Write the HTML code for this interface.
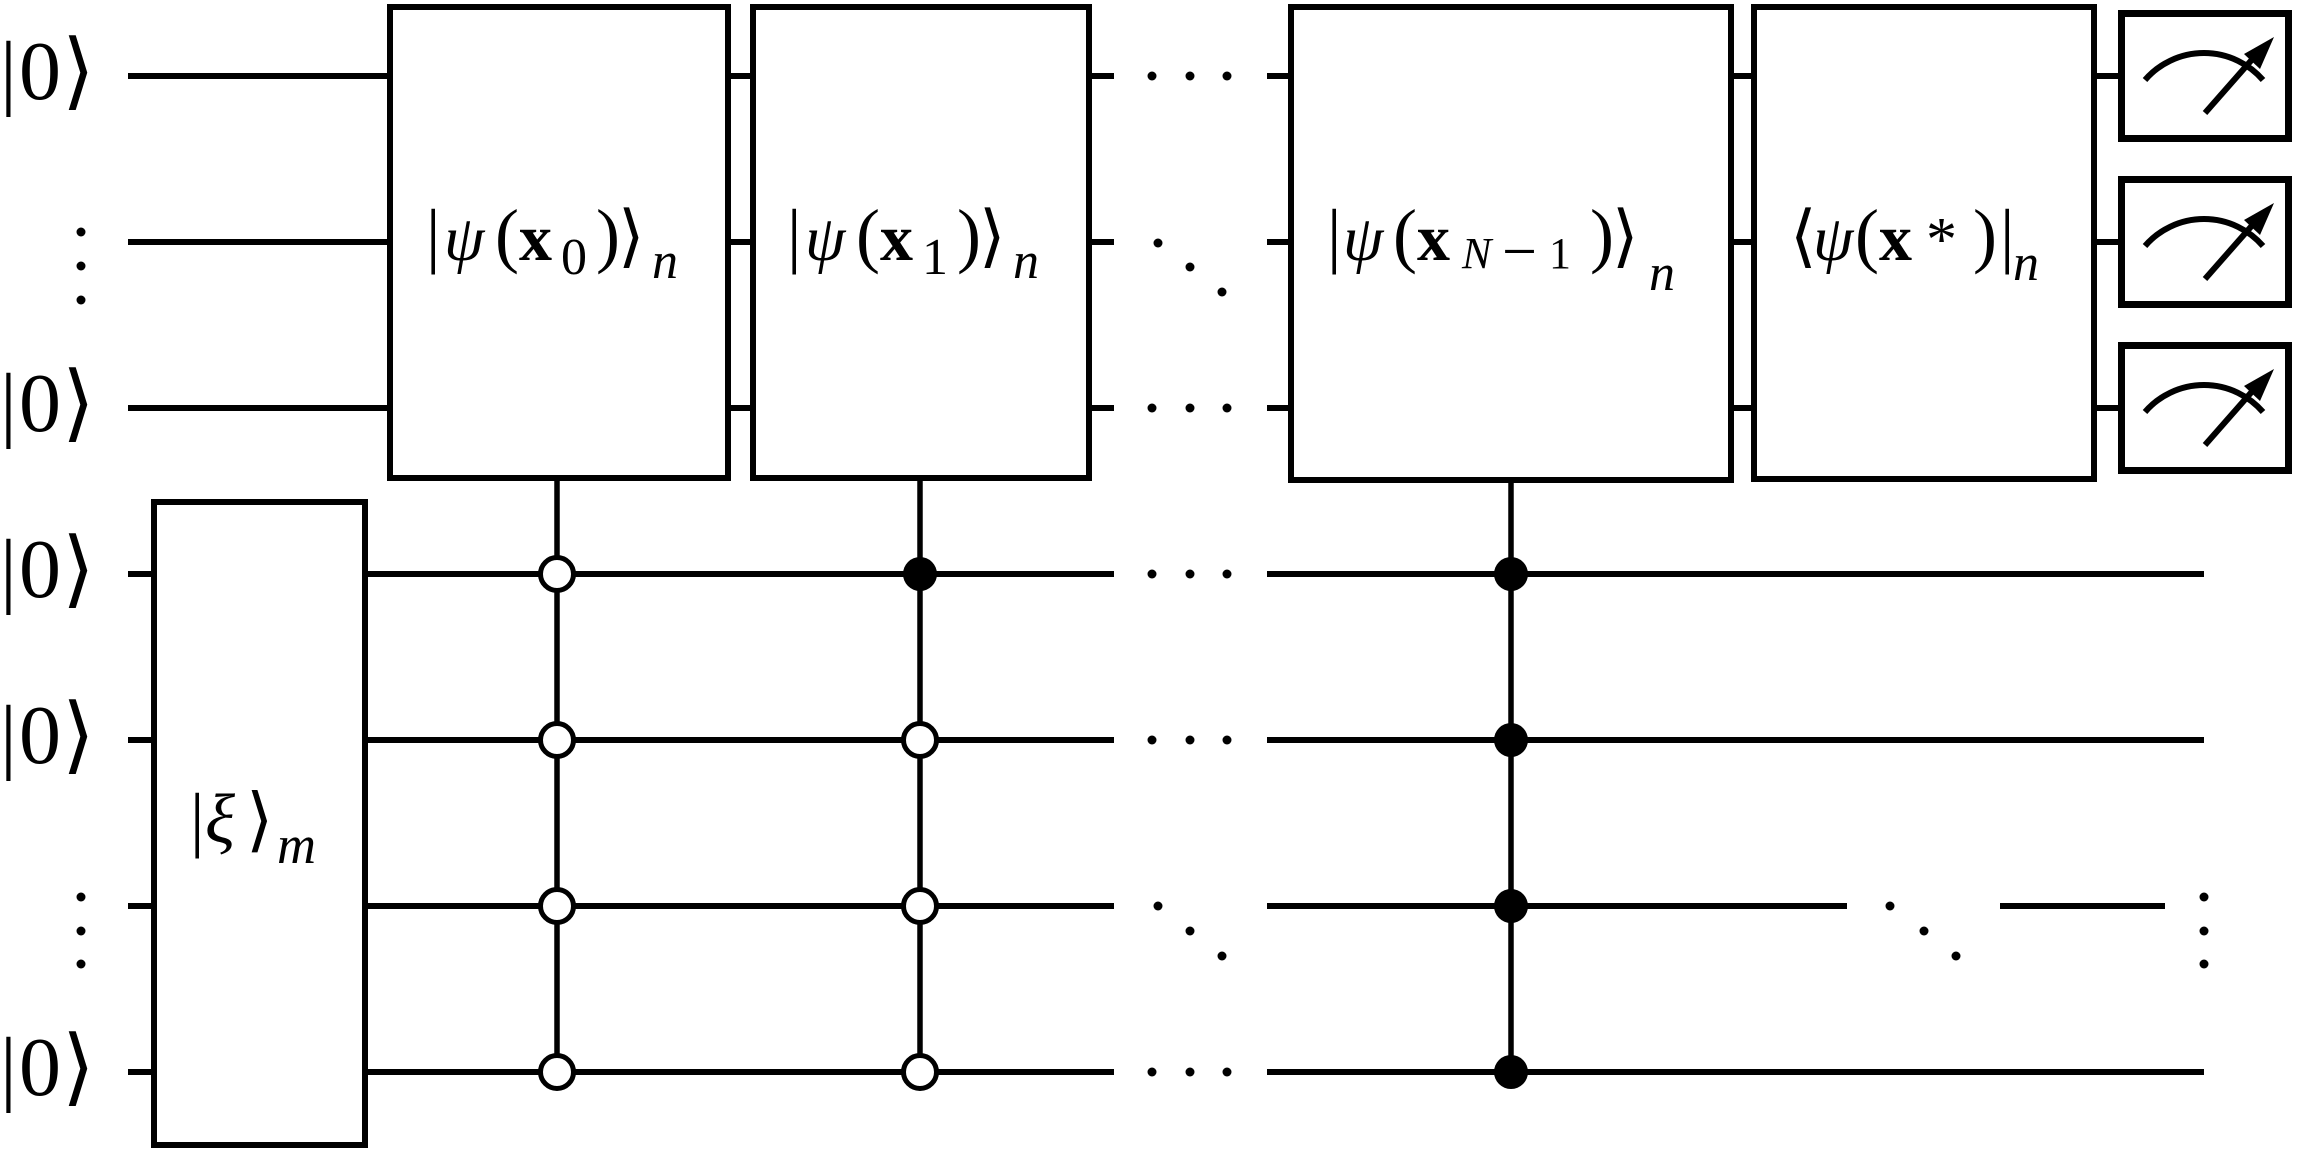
<!DOCTYPE html>
<html>
<head>
<meta charset="utf-8">
<style>
  html,body{margin:0;padding:0;background:#fff;}
  svg{display:block;}
  text{font-family:"Liberation Serif","DejaVu Serif",serif;fill:#000;}
  .it{font-style:italic;}
  .bf{font-weight:bold;}
  .ang{font-family:"DejaVu Sans","DejaVu Serif",sans-serif;}
</style>
</head>
<body>
<svg width="2300" height="1160" viewBox="0 0 2300 1160" xmlns="http://www.w3.org/2000/svg">
  <rect x="0" y="0" width="2300" height="1160" fill="#fff"/>

  <!-- ===== Wires (top register) ===== -->
  <g stroke="#000" stroke-width="6" fill="none">
    <line x1="128" y1="76" x2="390" y2="76"/>
    <line x1="728" y1="76" x2="753" y2="76"/>
    <line x1="1089" y1="76" x2="1114" y2="76"/>
    <line x1="1267" y1="76" x2="1291" y2="76"/>
    <line x1="1731" y1="76" x2="1754" y2="76"/>
    <line x1="2094" y1="76" x2="2121" y2="76"/>

    <line x1="128" y1="242" x2="390" y2="242"/>
    <line x1="728" y1="242" x2="753" y2="242"/>
    <line x1="1089" y1="242" x2="1114" y2="242"/>
    <line x1="1267" y1="242" x2="1291" y2="242"/>
    <line x1="1731" y1="242" x2="1754" y2="242"/>
    <line x1="2094" y1="242" x2="2121" y2="242"/>

    <line x1="128" y1="408" x2="390" y2="408"/>
    <line x1="728" y1="408" x2="753" y2="408"/>
    <line x1="1089" y1="408" x2="1114" y2="408"/>
    <line x1="1267" y1="408" x2="1291" y2="408"/>
    <line x1="1731" y1="408" x2="1754" y2="408"/>
    <line x1="2094" y1="408" x2="2121" y2="408"/>

    <!-- ===== Wires (bottom register) ===== -->
    <line x1="128" y1="574" x2="152" y2="574"/>
    <line x1="365" y1="574" x2="1114" y2="574"/>
    <line x1="1267" y1="574" x2="2204" y2="574"/>

    <line x1="128" y1="740" x2="152" y2="740"/>
    <line x1="365" y1="740" x2="1114" y2="740"/>
    <line x1="1267" y1="740" x2="2204" y2="740"/>

    <line x1="128" y1="906" x2="152" y2="906"/>
    <line x1="365" y1="906" x2="1114" y2="906"/>
    <line x1="1267" y1="906" x2="1847" y2="906"/>
    <line x1="2000" y1="906" x2="2165" y2="906"/>

    <line x1="128" y1="1072" x2="152" y2="1072"/>
    <line x1="365" y1="1072" x2="1114" y2="1072"/>
    <line x1="1267" y1="1072" x2="2204" y2="1072"/>
  </g>

  <!-- ===== Control lines ===== -->
  <g stroke="#000" stroke-width="5.5">
    <line x1="557" y1="478" x2="557" y2="1072"/>
    <line x1="920" y1="478" x2="920" y2="1072"/>
    <line x1="1511" y1="480" x2="1511" y2="1072"/>
  </g>

  <!-- ===== Gate boxes ===== -->
  <g stroke="#000" stroke-width="6" fill="#fff">
    <rect x="390" y="7" width="338" height="471"/>
    <rect x="753" y="7" width="336" height="471"/>
    <rect x="1291" y="7" width="440" height="473"/>
    <rect x="1754" y="7" width="340" height="472"/>
    <rect x="154" y="502" width="211" height="643"/>
  </g>

  <!-- ===== Control dots ===== -->
  <g stroke="#000" stroke-width="5" fill="#fff">
    <circle cx="557" cy="574" r="16.5"/>
    <circle cx="557" cy="740" r="16.5"/>
    <circle cx="557" cy="906" r="16.5"/>
    <circle cx="557" cy="1072" r="16.5"/>
    <circle cx="920" cy="740" r="16.5"/>
    <circle cx="920" cy="906" r="16.5"/>
    <circle cx="920" cy="1072" r="16.5"/>
  </g>
  <g fill="#000">
    <circle cx="920" cy="574" r="17"/>
    <circle cx="1511" cy="574" r="17"/>
    <circle cx="1511" cy="740" r="17"/>
    <circle cx="1511" cy="906" r="17"/>
    <circle cx="1511" cy="1072" r="17"/>
  </g>

  <!-- ===== Meters ===== -->
  <g>
    <g>
      <rect x="2121.5" y="13.5" width="167" height="125" stroke="#000" stroke-width="7" fill="#fff"/>
      <path d="M2145,80 A78,78 0 0 1 2263,80" stroke="#000" stroke-width="6" fill="none"/>
      <line x1="2205" y1="113" x2="2256" y2="55" stroke="#000" stroke-width="6"/>
      <polygon points="2274,37 2244,54 2260,69" fill="#000"/>
    </g>
    <g transform="translate(0,166)">
      <rect x="2121.5" y="13.5" width="167" height="125" stroke="#000" stroke-width="7" fill="#fff"/>
      <path d="M2145,80 A78,78 0 0 1 2263,80" stroke="#000" stroke-width="6" fill="none"/>
      <line x1="2205" y1="113" x2="2256" y2="55" stroke="#000" stroke-width="6"/>
      <polygon points="2274,37 2244,54 2260,69" fill="#000"/>
    </g>
    <g transform="translate(0,332)">
      <rect x="2121.5" y="13.5" width="167" height="125" stroke="#000" stroke-width="7" fill="#fff"/>
      <path d="M2145,80 A78,78 0 0 1 2263,80" stroke="#000" stroke-width="6" fill="none"/>
      <line x1="2205" y1="113" x2="2256" y2="55" stroke="#000" stroke-width="6"/>
      <polygon points="2274,37 2244,54 2260,69" fill="#000"/>
    </g>
  </g>

  <!-- ===== Ellipsis dots ===== -->
  <g fill="#000">
    <circle cx="1152" cy="76" r="4.5"/><circle cx="1190" cy="76" r="4.5"/><circle cx="1227" cy="76" r="4.5"/>
    <circle cx="1158" cy="243" r="4.5"/><circle cx="1190" cy="267" r="4.5"/><circle cx="1222" cy="292" r="4.5"/>
    <circle cx="1152" cy="408" r="4.5"/><circle cx="1190" cy="408" r="4.5"/><circle cx="1227" cy="408" r="4.5"/>

    <circle cx="1152" cy="574" r="4.5"/><circle cx="1190" cy="574" r="4.5"/><circle cx="1227" cy="574" r="4.5"/>
    <circle cx="1152" cy="740" r="4.5"/><circle cx="1190" cy="740" r="4.5"/><circle cx="1227" cy="740" r="4.5"/>
    <circle cx="1158" cy="906" r="4.5"/><circle cx="1190" cy="931" r="4.5"/><circle cx="1222" cy="956" r="4.5"/>
    <circle cx="1152" cy="1072" r="4.5"/><circle cx="1190" cy="1072" r="4.5"/><circle cx="1227" cy="1072" r="4.5"/>

    <circle cx="1890" cy="906" r="4.5"/><circle cx="1924" cy="931" r="4.5"/><circle cx="1956" cy="956" r="4.5"/>
    <circle cx="2204" cy="897" r="4.5"/><circle cx="2204" cy="931" r="4.5"/><circle cx="2204" cy="964" r="4.5"/>

    <circle cx="81" cy="232" r="4.5"/><circle cx="81" cy="266" r="4.5"/><circle cx="81" cy="300" r="4.5"/>
    <circle cx="81" cy="897" r="4.5"/><circle cx="81" cy="931" r="4.5"/><circle cx="81" cy="964" r="4.5"/>
  </g>

  <!-- ===== Left |0> labels ===== -->
  <g font-size="84">
    <text x="0" y="99">|</text><text x="19" y="99">0</text><text class="ang" x="62" y="99">⟩</text>
    <text x="0" y="431">|</text><text x="19" y="431">0</text><text class="ang" x="62" y="431">⟩</text>
    <text x="0" y="597">|</text><text x="19" y="597">0</text><text class="ang" x="62" y="597">⟩</text>
    <text x="0" y="763">|</text><text x="19" y="763">0</text><text class="ang" x="62" y="763">⟩</text>
    <text x="0" y="1095">|</text><text x="19" y="1095">0</text><text class="ang" x="62" y="1095">⟩</text>
  </g>

  <!-- ===== Box 1 label ===== -->
  <text x="426" y="259" font-size="72">|</text>
  <text class="it" x="444" y="260" font-size="65">ψ</text>
  <text x="495" y="259" font-size="72">(</text>
  <text class="bf" x="519" y="260" font-size="66">x</text>
  <text x="561" y="274" font-size="52">0</text>
  <text x="596" y="259" font-size="72">)</text>
  <text class="ang" x="618" y="259" font-size="68">⟩</text>
  <text class="it" x="652" y="278" font-size="52">n</text>

  <!-- ===== Box 2 label ===== -->
  <text x="787" y="259" font-size="72">|</text>
  <text class="it" x="805" y="260" font-size="65">ψ</text>
  <text x="856" y="259" font-size="72">(</text>
  <text class="bf" x="880" y="260" font-size="66">x</text>
  <text x="922" y="274" font-size="52">1</text>
  <text x="957" y="259" font-size="72">)</text>
  <text class="ang" x="979" y="259" font-size="68">⟩</text>
  <text class="it" x="1013" y="278" font-size="52">n</text>

  <!-- ===== Box 3 label ===== -->
  <text x="1327" y="259" font-size="72">|</text>
  <text class="it" x="1343" y="260" font-size="65">ψ</text>
  <text x="1393" y="259" font-size="72">(</text>
  <text class="bf" x="1417" y="260" font-size="66">x</text>
  <text class="it" x="1462" y="268" font-size="44">N</text>
  <text x="1502" y="272" font-size="62">−</text>
  <text x="1549" y="268" font-size="44">1</text>
  <text x="1590" y="259" font-size="72">)</text>
  <text class="ang" x="1612" y="259" font-size="68">⟩</text>
  <text class="it" x="1649" y="290" font-size="52">n</text>

  <!-- ===== Box 4 label ===== -->
  <text class="ang" x="1790" y="259" font-size="68">⟨</text>
  <text class="it" x="1813" y="260" font-size="65">ψ</text>
  <text x="1855" y="259" font-size="72">(</text>
  <text class="bf" x="1879" y="260" font-size="66">x</text>
  <text x="1926" y="260" font-size="62">*</text>
  <text x="1973" y="259" font-size="72">)</text>
  <text x="2000" y="259" font-size="72">|</text>
  <text class="it" x="2013" y="280" font-size="52">n</text>

  <!-- ===== ξ box label ===== -->
  <text x="190" y="843" font-size="72">|</text>
  <text class="it" x="205" y="842" font-size="70">ξ</text>
  <text class="ang" x="246" y="843" font-size="70">⟩</text>
  <text class="it" x="277" y="863" font-size="54">m</text>
</svg>
</body>
</html>
